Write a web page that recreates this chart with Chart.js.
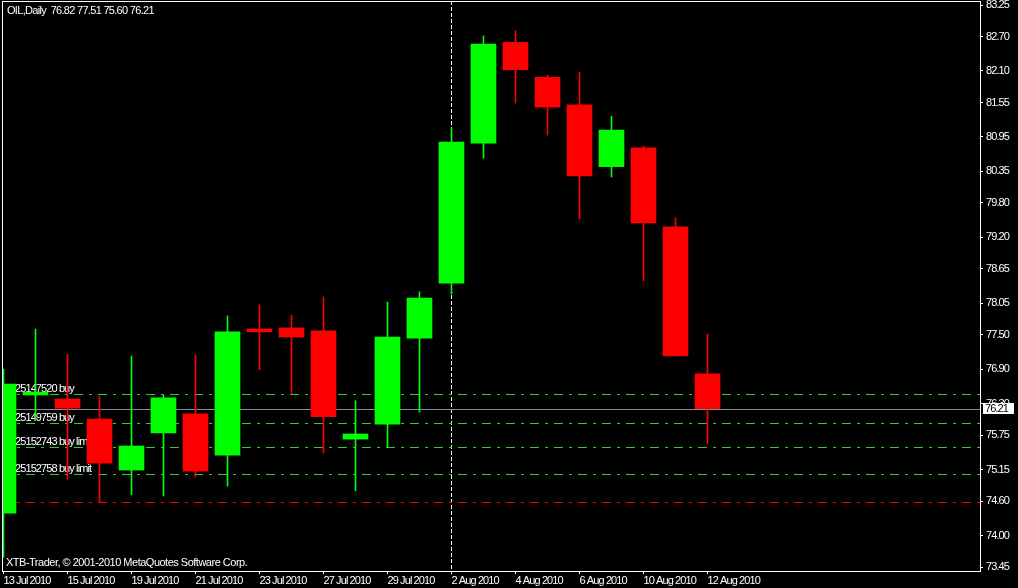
<!DOCTYPE html>
<html>
<head>
<meta charset="utf-8">
<script src="https://cdn.jsdelivr.net/npm/chart.js@4.4.0/dist/chart.umd.min.js"></script>
<style>
  html, body { margin: 0; padding: 0; background: #000; overflow: hidden; }
  #wrap { width: 1018px; height: 588px; }
</style>
</head>
<body>
<div id="wrap"><canvas id="chart" width="1018" height="588"></canvas></div>
<script>
const dates = [
  "13 Jul 2010", "14 Jul 2010", "15 Jul 2010", "16 Jul 2010", "19 Jul 2010",
  "20 Jul 2010", "21 Jul 2010", "22 Jul 2010", "23 Jul 2010", "26 Jul 2010",
  "27 Jul 2010", "28 Jul 2010", "29 Jul 2010", "30 Jul 2010", "2 Aug 2010",
  "3 Aug 2010", "4 Aug 2010", "5 Aug 2010", "6 Aug 2010", "9 Aug 2010",
  "10 Aug 2010", "11 Aug 2010", "12 Aug 2010"
];
const opens  = [74.39, 76.45, 76.38, 76.03, 75.14, 75.79, 76.12, 75.40, 77.60, 77.62, 77.57, 75.68, 75.94, 77.44, 78.40, 80.84, 82.60, 81.99, 81.51, 80.43, 80.76, 79.38, 76.82];
const highs  = [76.90, 77.60, 77.16, 76.43, 77.13, 76.45, 77.15, 77.83, 78.02, 77.84, 78.16, 76.35, 78.07, 78.25, 81.11, 82.71, 82.80, 82.03, 82.08, 81.31, 80.79, 79.54, 77.51];
const lows   = [73.62, 76.03, 74.98, 74.58, 74.71, 74.69, 75.02, 74.86, 76.89, 76.48, 75.44, 74.78, 75.54, 76.15, 78.21, 80.58, 81.54, 80.98, 79.52, 80.25, 78.44, 77.13, 75.60];
const closes = [76.64, 76.50, 76.22, 75.26, 75.56, 76.40, 75.12, 77.55, 77.55, 77.46, 76.07, 75.77, 77.46, 78.14, 80.86, 82.57, 82.12, 81.47, 80.27, 81.07, 79.45, 77.13, 76.21];

const priceTicks = [83.25, 82.70, 82.10, 81.55, 80.95, 80.35, 79.80, 79.20, 78.65, 78.05, 77.50, 76.90, 76.30, 75.75, 75.15, 74.60, 74.00, 73.45];
const dateTickIdx = [0, 2, 4, 6, 8, 10, 12, 14, 16, 18, 20, 22];

const orderPrices = [76.46, 75.97, 75.54, 75.07];
const orderNames = ["25147520 buy", "25149759 buy", "25152743 buy limit", "25152758 buy limit"];
const stopPrices = [74.58];
const bidPrice = 76.21;
const separatorDate = "2 Aug 2010";

const symbolTitle = "OIL,Daily  76.82 77.51 75.60 76.21";
const copyright = "XTB-Trader, \u00a9 2001-2010 MetaQuotes Software Corp.";

const FONT = "'Liberation Sans', Arial, sans-serif";
const UP = "#00ff00";
const DOWN = "#ff0000";

const colors = opens.map((o, i) => (closes[i] >= o ? UP : DOWN));
const bodies = opens.map((o, i) => ({ x: i, y: [o, closes[i]] }));
const wicks = lows.map((l, i) => ({ x: i, y: [l, highs[i]] }));

function hline(ctx, area, y, color, dash) {
  ctx.save();
  ctx.strokeStyle = color;
  ctx.lineWidth = 1;
  ctx.setLineDash(dash);
  ctx.beginPath();
  const py = Math.round(y) + 0.5;
  ctx.moveTo(area.left, py);
  ctx.lineTo(area.right, py);
  ctx.stroke();
  ctx.restore();
}

function noPadding(scale) {
  scale.paddingTop = 0;
  scale.paddingBottom = 0;
  scale.paddingLeft = 0;
  scale.paddingRight = 0;
}

const terminalPlugin = {
  id: "terminal",
  beforeDraw(chart) {
    chart.ctx.letterSpacing = "-0.9px";
  },
  beforeDatasetsDraw(chart) {
    const { ctx, chartArea: area, scales } = chart;
    const y = scales.y;
    const x = scales.x;
    ctx.save();
    ctx.beginPath();
    ctx.rect(area.left, area.top, area.right - area.left, area.bottom - area.top);
    ctx.clip();

    // period separator
    const sx = Math.round(x.getPixelForValue(dates.indexOf(separatorDate))) - 0.5;
    ctx.strokeStyle = "#ffffff";
    ctx.setLineDash([4, 2]);
    ctx.beginPath();
    ctx.moveTo(sx, area.top);
    ctx.lineTo(sx, area.bottom);
    ctx.stroke();
    ctx.setLineDash([]);

    // bid line
    hline(ctx, area, y.getPixelForValue(bidPrice), "#8090a4", []);

    // order lines
    orderPrices.forEach((p) => hline(ctx, area, y.getPixelForValue(p), "#32cd32", [9, 6, 3, 6]));
    stopPrices.forEach((p) => hline(ctx, area, y.getPixelForValue(p), "#ff0000", [9, 6, 3, 6]));

    ctx.font = "11px " + FONT;
    ctx.fillStyle = "#ffffff";
    ctx.textBaseline = "alphabetic";
    ctx.textAlign = "left";
    orderNames.forEach((name, i) => {
      const py = Math.round(y.getPixelForValue(orderPrices[i]));
      ctx.fillText(name, area.left + 13, py - 2);
    });
    ctx.restore();
  },
  afterDraw(chart) {
    const { ctx, chartArea: area, scales } = chart;
    ctx.save();
    // frame
    ctx.strokeStyle = "#ffffff";
    ctx.lineWidth = 1;
    ctx.strokeRect(area.left + 0.5, area.top + 0.5, area.right - area.left, area.bottom - area.top);

    ctx.font = "11px " + FONT;
    ctx.fillStyle = "#ffffff";
    ctx.textAlign = "left";
    ctx.textBaseline = "alphabetic";
    ctx.letterSpacing = "-0.7px";
    ctx.fillText(symbolTitle, area.left + 5, area.top + 13);
    ctx.letterSpacing = "-0.5px";
    ctx.fillText(copyright, area.left + 4, area.bottom - 5);

    // bid price label on the axis
    const by = Math.round(scales.y.getPixelForValue(bidPrice));
    ctx.letterSpacing = "-0.9px";
    ctx.fillStyle = "#ffffff";
    ctx.fillRect(area.right + 3, by - 6, 31, 11);
    ctx.fillStyle = "#000000";
    ctx.textBaseline = "middle";
    ctx.fillText(bidPrice.toFixed(2), area.right + 5, by);
    ctx.restore();
  }
};

new Chart(document.getElementById("chart"), {
  type: "bar",
  data: {
    datasets: [
      {
        label: "body",
        data: bodies,
        backgroundColor: colors,
        borderWidth: 0,
        barThickness: 25,
        grouped: false,
        order: 1
      },
      {
        label: "wick",
        data: wicks,
        backgroundColor: colors,
        borderWidth: 0,
        barThickness: 1,
        grouped: false,
        order: 2
      }
    ]
  },
  options: {
    responsive: false,
    devicePixelRatio: 1,
    animation: false,
    events: [],
    layout: { padding: { left: 2, top: 1, right: 0, bottom: 0 } },
    plugins: {
      legend: { display: false },
      tooltip: { enabled: false },
      title: { display: false }
    },
    scales: {
      x: {
        type: "linear",
        offset: false,
        min: -1.5 / 32,
        max: -1.5 / 32 + 978 / 32,
        afterBuildTicks: (scale) => {
          scale.ticks = dateTickIdx.map((v) => ({ value: v }));
        },
        afterFit: (scale) => { scale.height = 17; noPadding(scale); },
        grid: {
          display: true,
          offset: false,
          drawOnChartArea: false,
          drawTicks: true,
          tickLength: 3,
          color: "#ffffff"
        },
        border: { display: true, color: "#ffffff" },
        ticks: {
          autoSkip: false,
          maxRotation: 0,
          minRotation: 0,
          align: "start",
          padding: 0,
          color: "#ffffff",
          font: { family: FONT, size: 11 },
          callback: (v) => dates[v]
        }
      },
      y: {
        type: "linear",
        position: "right",
        min: 83.25 - 566 / 57.35,
        max: 83.25 + 4 / 57.35,
        afterBuildTicks: (scale) => {
          scale.ticks = priceTicks.map((v) => ({ value: v }));
        },
        afterFit: (scale) => { scale.width = 38; noPadding(scale); },
        grid: {
          display: true,
          drawOnChartArea: false,
          drawTicks: true,
          tickLength: 3,
          color: "#ffffff"
        },
        border: { display: true, color: "#ffffff" },
        ticks: {
          padding: 3,
          color: "#ffffff",
          font: { family: FONT, size: 11 },
          callback: (v) => Number(v).toFixed(2)
        }
      }
    }
  },
  plugins: [terminalPlugin]
});
</script>
</body>
</html>
